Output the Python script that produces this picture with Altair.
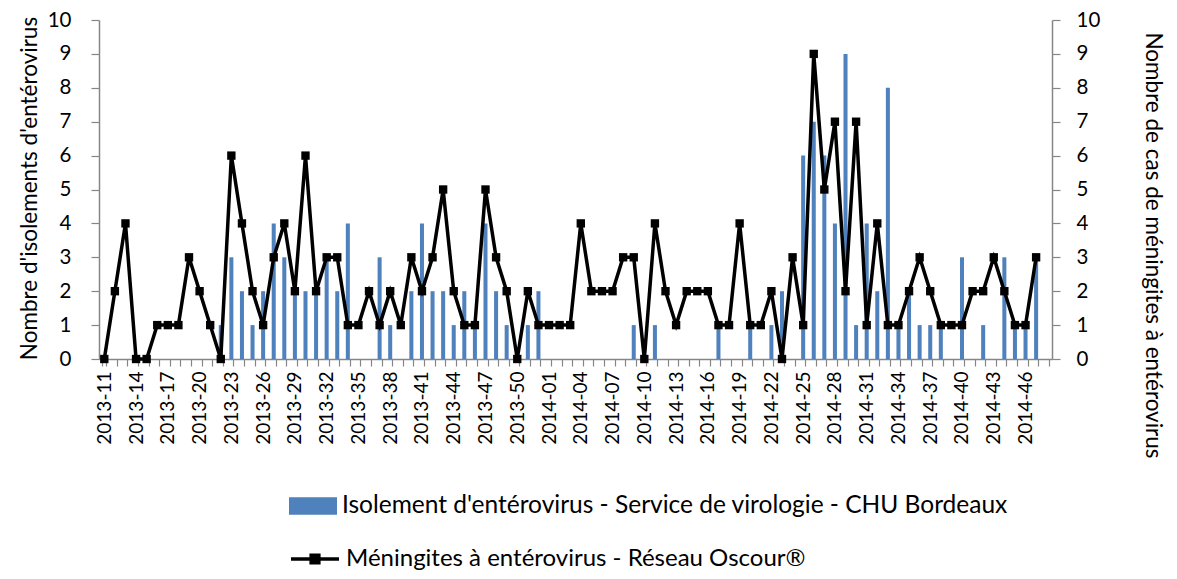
import altair as alt
import pandas as pd

# Categories: epidemiological weeks 2013-11 .. 2014-48
weeks_2013 = [f"2013-{w:02d}" for w in range(11, 53)]
weeks_2014 = [f"2014-{w:02d}" for w in range(1, 49)]
weeks = weeks_2013 + weeks_2014

# Isolements d'entérovirus - Service de virologie - CHU Bordeaux (bars, left axis)
iso_2013 = [0, 0, 0, 0, 0, 0, 0, 0, 0, 0, 0,
            1, 3, 2, 1, 2, 4, 3, 2, 2, 2, 3, 2, 4, 0, 0, 3, 1, 0, 2, 4,
            2, 2, 1, 2, 1, 4, 2, 1, 0, 1, 2]
iso_2014 = [0, 0, 0, 0, 0, 0, 0, 0, 1, 0, 1, 0, 0, 0, 0, 0, 1, 0, 0, 1,
            0, 1, 2, 0, 6, 7, 6, 4, 9, 1, 4, 2, 8, 1, 2, 1, 1, 1, 0, 3,
            0, 1, 0, 3, 1, 1, 3, None]

# Méningites à entérovirus - Réseau Oscour (line, right axis)
men_2013 = [0, 2, 4, 0, 0, 1, 1, 1, 3, 2, 1, 0, 6, 4, 2, 1, 3, 4, 2, 6,
            2, 3, 3, 1, 1, 2, 1, 2, 1, 3, 2, 3, 5, 2, 1, 1, 5, 3, 2, 0,
            2, 1]
men_2014 = [1, 1, 1, 4, 2, 2, 2, 3, 3, 0, 4, 2, 1, 2, 2, 2, 1, 1, 4, 1,
            1, 2, 0, 3, 1, 9, 5, 7, 2, 7, 1, 4, 1, 1, 2, 3, 2, 1, 1, 1,
            2, 2, 3, 2, 1, 1, 3, None]

isolements = iso_2013 + iso_2014
meningites = men_2013 + men_2014

serie_iso = "Isolement d'entérovirus - Service de virologie - CHU Bordeaux"
serie_men = "Méningites à entérovirus - Réseau Oscour®"

labelled = [w for w in weeks_2013 if (int(w[5:]) - 11) % 3 == 0] + \
           [w for w in weeks_2014 if (int(w[5:]) - 1) % 3 == 0]

df = pd.DataFrame({
    "week": weeks,
    "iso": isolements,
    "men": meningites,
    "s_iso": serie_iso,
    "s_men": serie_men,
})

FONT = "Lato"
GRAY = "#868686"

label_expr = "indexof(" + str(labelled) + ", datum.value) >= 0 ? datum.value : ''"

x_enc = alt.X(
    "week:N",
    sort=weeks,
    scale=alt.Scale(domain=weeks, paddingInner=0.62, paddingOuter=0.31),
    axis=alt.Axis(
        title=None, labelAngle=-90, labelExpr=label_expr, labelOverlap=False,
        labelFont=FONT, labelFontSize=19, labelColor="black", labelPadding=5,
        tickBand="extent", tickSize=7, tickColor=GRAY, domainColor=GRAY,
        tickWidth=1.2, domainWidth=1.5,
    ),
)

base = alt.Chart(df)

bars = base.mark_bar().encode(
    x=x_enc,
    y=alt.Y(
        "iso:Q",
        scale=alt.Scale(domain=[0, 10], nice=False),
        axis=alt.Axis(
            orient="left", values=list(range(11)), grid=False,
            title="Nombre d'isolements d'entérovirus",
            titleFont=FONT, titleFontSize=22.5, titleFontWeight="normal", titleColor="black",
            titleAngle=270, titleAlign="center", titleBaseline="middle",
            titleX=-70, titleY=168,
            labelFont=FONT, labelFontSize=20.5, labelColor="black", labelPadding=20,
            tickSize=8, tickColor=GRAY, domainColor=GRAY, tickWidth=1.2, domainWidth=1.5,
        ),
    ),
    fill=alt.Fill(
        "s_iso:N",
        scale=alt.Scale(range=["#4F81BD"]),
        legend=alt.Legend(
            orient="none", legendX=190, legendY=462, title=None, padding=0,
            symbolType="M-1,-0.36H1V0.36H-1Z", symbolSize=2304, symbolStrokeWidth=0,
            labelFont=FONT, labelFontSize=24.5, labelColor="black", labelLimit=0, labelOffset=5,
        ),
    ),
)

line = base.mark_line(strokeWidth=3.5).encode(
    x=x_enc,
    y=alt.Y(
        "men:Q",
        scale=alt.Scale(domain=[0, 10], nice=False),
        axis=alt.Axis(
            orient="right", values=list(range(11)), grid=False,
            title="Nombre de cas de méningites à entérovirus",
            titleFont=FONT, titleFontSize=22.5, titleFontWeight="normal", titleColor="black",
            titleAngle=90, titleAlign="center", titleBaseline="middle",
            titleX=100, titleY=225,
            labelFont=FONT, labelFontSize=20.5, labelColor="black", labelPadding=16,
            tickSize=8, tickColor=GRAY, domainColor=GRAY, tickWidth=1.2, domainWidth=1.5,
        ),
    ),
    stroke=alt.Stroke(
        "s_men:N",
        scale=alt.Scale(range=["black"]),
        legend=alt.Legend(
            orient="none", legendX=190, legendY=513, title=None, padding=0,
            symbolType="M-1,0H1M-0.16,-0.16H0.16V0.16H-0.16Z", symbolSize=2304,
            symbolStrokeWidth=3.5, symbolFillColor="black",
            labelFont=FONT, labelFontSize=24, labelColor="black", labelLimit=0, labelOffset=5,
        ),
    ),
)

points = base.mark_square(size=70, color="black", opacity=1, filled=True).encode(
    x=x_enc,
    y=alt.Y("men:Q", scale=alt.Scale(domain=[0, 10], nice=False), axis=None),
)

chart = alt.layer(bars, line, points).resolve_scale(y="independent").properties(
    width=953,
    height=339,
    background="white",
    autosize=alt.AutoSizeParams(type="none"),
    padding={"left": 91, "top": 12, "right": 117, "bottom": 212},
).configure_view(stroke=None)

chart.save("out.html", embed_options={"renderer": "svg", "actions": False})
